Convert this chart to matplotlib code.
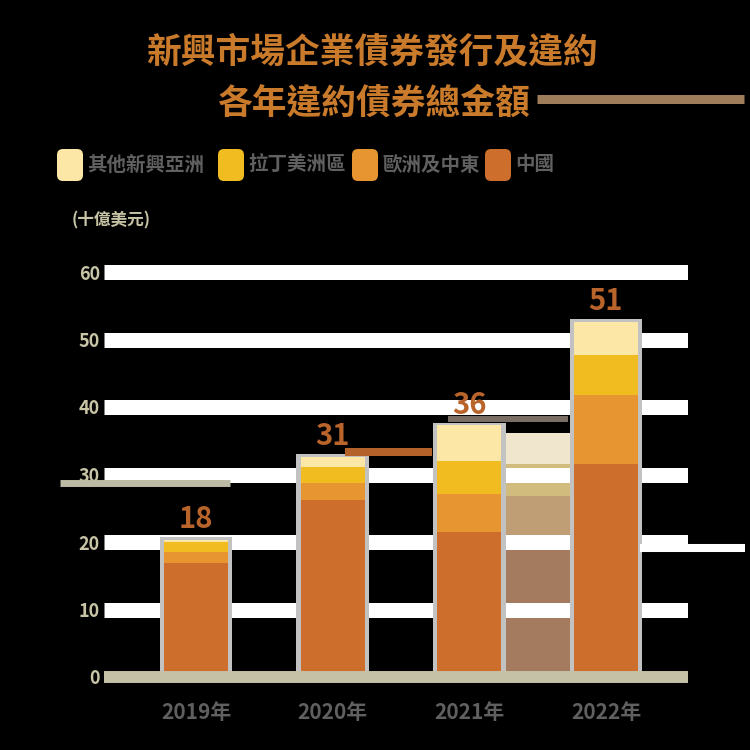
import numpy as np
import matplotlib.pyplot as plt
from matplotlib.patches import FancyBboxPatch
from matplotlib.lines import Line2D

plt.rcParams['font.family'] = ['Noto Sans CJK TC', 'DejaVu Sans']

# data
years = ['2019年', '2020年', '2021年', '2022年']
series = ['其他新興亞洲', '拉丁美洲區', '歐洲及中東', '中國']
china = [16.9, 26.2, 21.5, 31.6]
emea = [1.6, 2.5, 5.6, 10.2]
latam = [1.5, 2.4, 4.9, 5.9]
asia = [0.3, 1.5, 5.3, 4.9]
totals = ['18', '31', '36', '51']
# faded copy standing next to the 2021 bar (bottom -> top)
shadow = [20.9, 5.9, 4.7, 4.7]
yticks = [0, 10, 20, 30, 40, 50, 60]

colors = {'中國': '#cd6e2c', '歐洲及中東': '#e79531',
          '拉丁美洲區': '#f1bc1f', '其他新興亞洲': '#fde7a6'}
shadow_colors = ['#a47b5f', '#c09e75', '#d2bc7d', '#efe6cd']
bg = 'black'
beige = '#c8c4a6'
grey_txt = '#606060'
orange_txt = '#c97a2b'

W = 750
fig = plt.figure(figsize=(7.5, 7.5), dpi=100, facecolor=bg)
ax = fig.add_axes([104 / W, 73 / W, 584 / W, 62 * 6.75 / W])
ax.set_facecolor('none')
ax.set_xlim(-0.673, 3.6)
ax.set_ylim(0, 62)
for s in ax.spines.values():
    s.set_visible(False)


def hline(x0, x1, y, color, lw):
    # decorative line, pixel coords measured from the top-left corner
    fig.add_artist(Line2D([x0 / W, x1 / W], [1 - y / W, 1 - y / W],
                          transform=fig.transFigure, color=color, lw=lw,
                          solid_capstyle='butt'))


x = np.arange(len(years))

# gridlines
for yv in yticks[1:]:
    ax.axhline(yv, color='white', lw=10.8, zorder=1, solid_capstyle='butt')

# faded shadow bar behind the grid
bottom = 0
for v, c in zip(shadow, shadow_colors):
    ax.bar(2.5, v, width=0.5, bottom=bottom, color=c, zorder=0.5)
    bottom += v

# stacked bars
stack = [('中國', china), ('歐洲及中東', emea), ('拉丁美洲區', latam), ('其他新興亞洲', asia)]
tot = np.sum([china, emea, latam, asia], axis=0)
ax.bar(x, tot + 0.4, width=0.53, color='#c2c2c2', zorder=2)
bottom = np.zeros(len(years))
for name, vals in stack:
    ax.bar(x, vals, width=0.47, bottom=bottom, color=colors[name], zorder=3)
    bottom += np.array(vals)

for xi, t, lab in zip(x, tot, totals):
    ax.annotate(lab, (xi, t), xytext=(0, 4), textcoords='offset points',
                ha='center', va='bottom', fontsize=21, fontweight='bold',
                color='#b9642b', zorder=6)

# baseline
ax.axhline(0, color='#c4c1a6', lw=8.6, zorder=5, clip_on=False,
           solid_capstyle='butt')

ax.set_yticks(yticks)
ax.set_yticklabels([str(v) for v in yticks], color=beige, fontsize=13,
                   fontweight='bold')
ax.get_yticklabels()[0].set_y(1.2)
ax.set_xticks(x)
ax.set_xticklabels(years, color=grey_txt, fontsize=15, fontweight='bold')
ax.tick_params(axis='both', length=0)
ax.tick_params(axis='y', pad=3)
ax.tick_params(axis='x', pad=18)

# title
fig.text(372 / W, 1 - 52 / W, '新興市場企業債券發行及違約', ha='center', va='center',
         fontsize=25, fontweight='bold', color=orange_txt)
fig.text(373 / W, 1 - 103 / W, '各年違約債券總金額', ha='center', va='center',
         fontsize=25, fontweight='bold', color=orange_txt)
hline(537, 744, 99, '#a07d5a', 6.5)

# legend
leg_x = [57, 218, 352, 485]
for lx, name in zip(leg_x, series):
    fig.add_artist(FancyBboxPatch((lx / W, 1 - 181 / W), 26 / W, 32 / W,
                                  boxstyle='round,pad=0,rounding_size=0.008',
                                  transform=fig.transFigure,
                                  facecolor=colors[name], edgecolor='none'))
    fig.text((lx + 30) / W, 1 - 165 / W, name, ha='left', va='center',
             fontsize=14, fontweight='bold', color=grey_txt)

# unit label
fig.text(72 / W, 1 - 220 / W, '(十億美元)', ha='left', va='center',
         fontsize=12, fontweight='bold', color=beige)

# stray decorative strokes
hline(345, 432, 452, '#b5622a', 5.8)
hline(448, 568, 419, '#7b6e64', 4.3)
hline(60, 230, 483, '#bdbaa5', 5)
hline(640, 745, 548, 'white', 5.8)

fig.savefig('out.png', dpi=100, facecolor=bg)
